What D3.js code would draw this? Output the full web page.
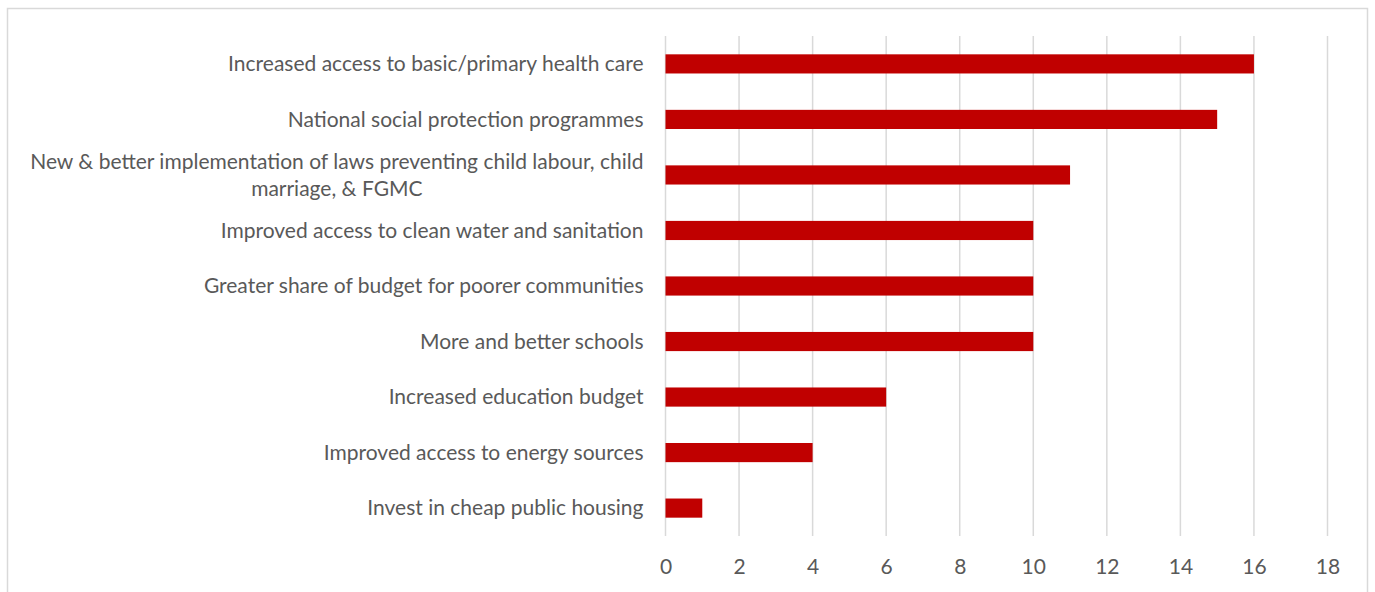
<!DOCTYPE html>
<html>
<head>
<meta charset="utf-8">
<script src="https://cdn.jsdelivr.net/npm/d3@7"></script>
<style>
  html, body { margin: 0; padding: 0; background: #fff; }
  svg { display: block; }
  text { font-family: "Lato", "Open Sans", sans-serif; fill: #595959; }
</style>
</head>
<body>
<svg id="chart" width="1375" height="592"></svg>
<script>
// Measures and how many responses named each one
const categories = [
  "Increased access to basic/primary health care",
  "National social protection programmes",
  "New & better implementation of laws preventing child labour, child marriage, & FGMC",
  "Improved access to clean water and sanitation",
  "Greater share of budget for poorer communities",
  "More and better schools",
  "Increased education budget",
  "Improved access to energy sources",
  "Invest in cheap public housing"
];
const values = [16, 15, 11, 10, 10, 10, 6, 4, 1];
const xTicks = [0, 2, 4, 6, 8, 10, 12, 14, 16, 18];

// Labels that break over two lines
const wrapped = {
  "New & better implementation of laws preventing child labour, child marriage, & FGMC":
    ["New & better implementation of laws preventing child labour, child", "marriage, & FGMC"]
};

const FONT = 21;
const svg = d3.select("#chart");

// Chart frame
svg.append("rect")
  .attr("x", 7.5).attr("y", 8.5)
  .attr("width", 1360).attr("height", 600)
  .attr("fill", "#fff").attr("stroke", "#d9d9d9").attr("stroke-width", 1.5);

const plot = { left: 665.5, right: 1327.5, top: 36, bottom: 536 };

const x = d3.scaleLinear().domain([0, 18]).range([plot.left, plot.right]);
const y = d3.scaleBand().domain(categories).range([plot.top, plot.bottom]).paddingInner(0.655).paddingOuter(0.33);

// Vertical gridlines
svg.append("g")
  .selectAll("line")
  .data(xTicks)
  .join("line")
  .attr("x1", d => x(d)).attr("x2", d => x(d))
  .attr("y1", plot.top).attr("y2", plot.bottom)
  .attr("stroke", "#d9d9d9").attr("stroke-width", 1.5);

// Bars
svg.append("g")
  .selectAll("rect")
  .data(categories)
  .join("rect")
  .attr("x", x(0))
  .attr("y", d => y(d))
  .attr("width", (d, i) => x(values[i]) - x(0))
  .attr("height", y.bandwidth())
  .attr("fill", "#c00000");

// X axis tick labels
const xAxis = d3.axisBottom(x).tickValues(xTicks).tickSize(0).tickPadding(0);
const gx = svg.append("g").attr("transform", `translate(0,${plot.bottom + 38})`).call(xAxis);
gx.select(".domain").remove();
gx.selectAll("text").attr("font-size", FONT).attr("font-family", "Lato, sans-serif").attr("fill", "#595959").attr("dy", 0);

// Category labels
const labelX = plot.left - 22;
const gy = svg.append("g");
categories.forEach(c => {
  const cy = y(c) + y.bandwidth() / 2;
  const lines = wrapped[c];
  if (lines) {
    const t = gy.append("text")
      .attr("font-size", FONT)
      .attr("text-anchor", "middle");
    const lineGap = 27;
    // centre the block of lines on the bar; first line sets the block width
    const tmp = gy.append("text").attr("font-size", FONT).text(lines[0]);
    const w0 = tmp.node().getComputedTextLength();
    tmp.remove();
    const cx = labelX - w0 / 2;
    lines.forEach((ln, i) => {
      t.append("tspan")
        .attr("x", cx)
        .attr("y", cy + (i - (lines.length - 1) / 2) * lineGap)
        .attr("dy", "0.35em")
        .text(ln);
    });
  } else {
    gy.append("text")
      .attr("font-size", FONT)
      .attr("text-anchor", "end")
      .attr("x", labelX)
      .attr("y", cy)
      .attr("dy", "0.35em")
      .text(c);
  }
});
</script>
</body>
</html>
